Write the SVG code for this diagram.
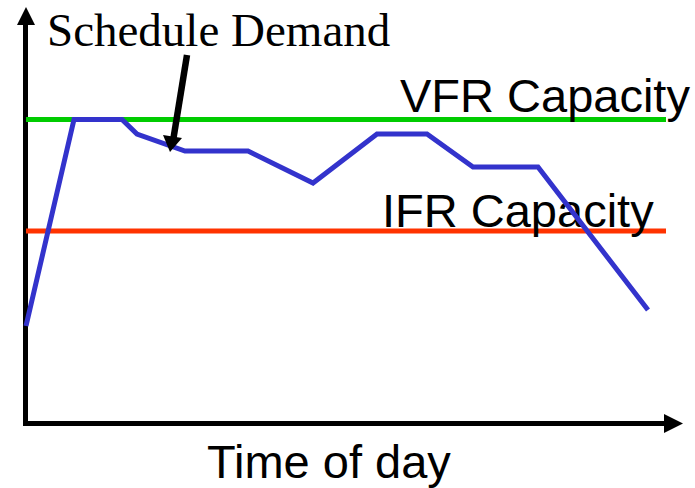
<svg xmlns="http://www.w3.org/2000/svg" width="695" height="488" viewBox="0 0 695 488">
<style>
.serif{font-family:"Liberation Serif","Times New Roman",serif;font-size:47px;fill:#000}
.sans{font-family:"Liberation Sans",Arial,sans-serif;font-size:47px;fill:#000}
.ln{fill:none;stroke-width:5}
</style>
<rect width="695" height="488" fill="#fff"/>
<g id="axes">
<path d="M25.5,24 V423.5 H666" fill="none" stroke="#000" stroke-width="5" stroke-linejoin="miter"/>
<polygon points="26,7 17,25 35,25" fill="#000"/>
<polygon points="683,423.5 664,414 664,433" fill="#000"/>
</g>
<g id="vfr">
<line class="ln" x1="26" y1="119.5" x2="666" y2="119.5" stroke="#00CC00"/>
<text class="sans" x="400" y="112">VFR Capacity</text>
</g>
<g id="ifr">
<line class="ln" x1="26" y1="231" x2="666" y2="231" stroke="#FF3300"/>
<text class="sans" x="382" y="227">IFR Capacity</text>
</g>
<g id="demand">
<polyline class="ln" stroke="#3333CC" stroke-linejoin="miter" points="26,326 74,119.5 122,119.5 137,134 185,151 248,151 313,183 377,134 427,134 473,167 538,167 648,310"/>
</g>
<g id="label">
<text class="serif" x="47" y="46">Schedule Demand</text>
</g>
<g id="connectors">
<line x1="187" y1="55" x2="173.5" y2="138" stroke="#000" stroke-width="6.5"/>
<polygon points="170,152 163,135 182,138" fill="#000"/>
</g>
<g id="xlabel">
<text class="sans" x="207" y="478">Time of day</text>
</g>
</svg>
